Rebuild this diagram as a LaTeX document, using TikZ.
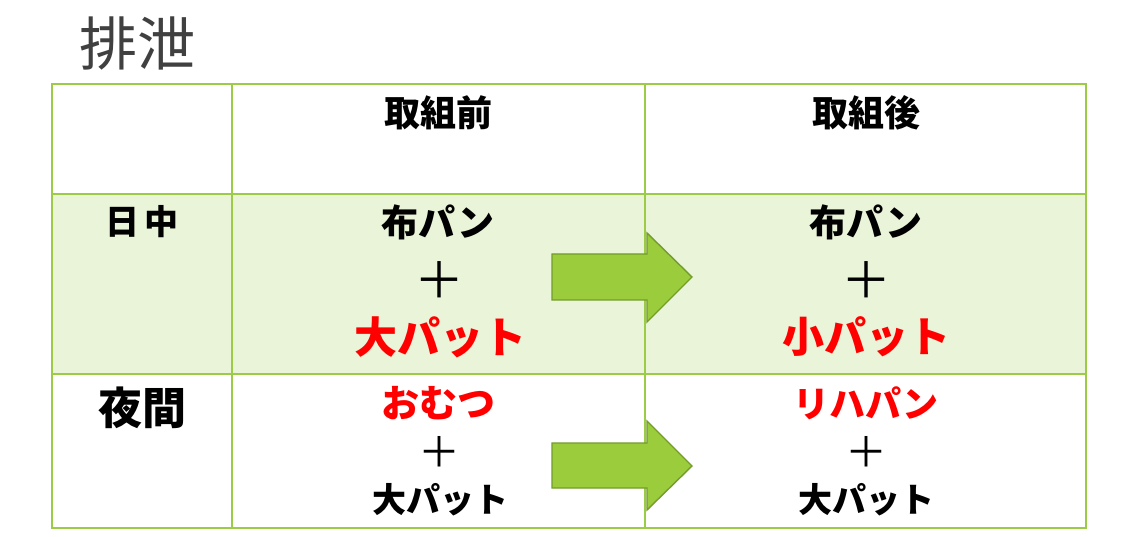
\documentclass[tikz,border=0pt]{standalone}
\usepackage{fontspec}
\setmainfont{Noto Sans CJK JP}
\begin{document}
\begin{tikzpicture}[x=1pt,y=-1pt,
  grid/.style={draw=gridgreen,line width=1.3pt},
  cell/.style={inner sep=0pt,font=\bfseries},
  plus/.style={inner sep=0pt},
  arr/.style={fill=arrowgreen,draw=arrowdark,line width=1.4pt,line join=miter},
]
\definecolor{gridgreen}{HTML}{9CCB46}
\definecolor{rowfill}{HTML}{EAF4D9}
\definecolor{arrowgreen}{HTML}{9ACC3C}
\definecolor{arrowdark}{HTML}{739C2A}
\definecolor{titlegray}{HTML}{404040}
\definecolor{pred}{HTML}{FF0000}
\useasboundingbox (0,0) rectangle (1130,537);
\fill[white] (0,0) rectangle (1130,537);
% row fill
\fill[rowfill] (52,194) rectangle (1086,374);
% grid
\draw[grid] (52,84) rectangle (1086,528);
\draw[grid,line width=2.5pt] (52,194) -- (1086,194);
\draw[grid] (52,374) -- (1086,374);
\draw[grid] (232,84) -- (232,528);
\draw[grid] (645,84) -- (645,528);
% title
\node[inner sep=0pt,text=titlegray,font=\fontsize{58}{62}\selectfont] (title) at (137,43) {排泄};
% headers
\node[cell,font=\bfseries\fontsize{36}{40}\selectfont] (h1) at (438,113) {取組前};
\node[cell,font=\bfseries\fontsize{36}{40}\selectfont] (h2) at (866,113) {取組後};
% row labels
\node[cell,font=\bfseries\fontsize{34}{40}\selectfont] (r1) at (142,222) {日\,中};
\node[cell,font=\bfseries\fontsize{44}{48}\selectfont] (r2) at (142,408) {夜間};
% row 1 left
\node[cell,font=\bfseries\fontsize{37}{40}\selectfont] (a1) at (438,222) {布パン};
\node[plus,font=\fontsize{50}{54}\selectfont] (a2) at (439,280) {＋};
\node[cell,text=pred,font=\bfseries\fontsize{43}{46}\selectfont] (a3) at (440,337) {大パット};
% row 1 right
\node[cell,font=\bfseries\fontsize{37}{40}\selectfont] (b1) at (866,222) {布パン};
\node[plus,font=\fontsize{50}{54}\selectfont] (b2) at (866,280) {＋};
\node[cell,text=pred,font=\bfseries\fontsize{42}{46}\selectfont] (b3) at (866,337) {小パット};
% row 2 left
\node[cell,text=pred,font=\bfseries\fontsize{38}{40}\selectfont] (c1) at (438,403) {おむつ};
\node[plus,font=\fontsize{42}{46}\selectfont] (c2) at (439,452) {＋};
\node[cell,font=\bfseries\fontsize{34}{40}\selectfont] (c3) at (440,500) {大パット};
% row 2 right
\node[cell,text=pred,font=\bfseries\fontsize{36}{40}\selectfont] (d1) at (866,403) {リハパン};
\node[plus,font=\fontsize{42}{46}\selectfont] (d2) at (866,452) {＋};
\node[cell,font=\bfseries\fontsize{34}{40}\selectfont] (d3) at (866,500) {大パット};
% arrows
\draw[arr] (552,254) -- (647,254) -- (647,233) -- (692,277) -- (647,322) -- (647,300) -- (552,300) -- cycle;
\draw[arr] (552,443) -- (647,443) -- (647,421) -- (692,466) -- (647,510) -- (647,488) -- (552,488) -- cycle;
\end{tikzpicture}
\end{document}
